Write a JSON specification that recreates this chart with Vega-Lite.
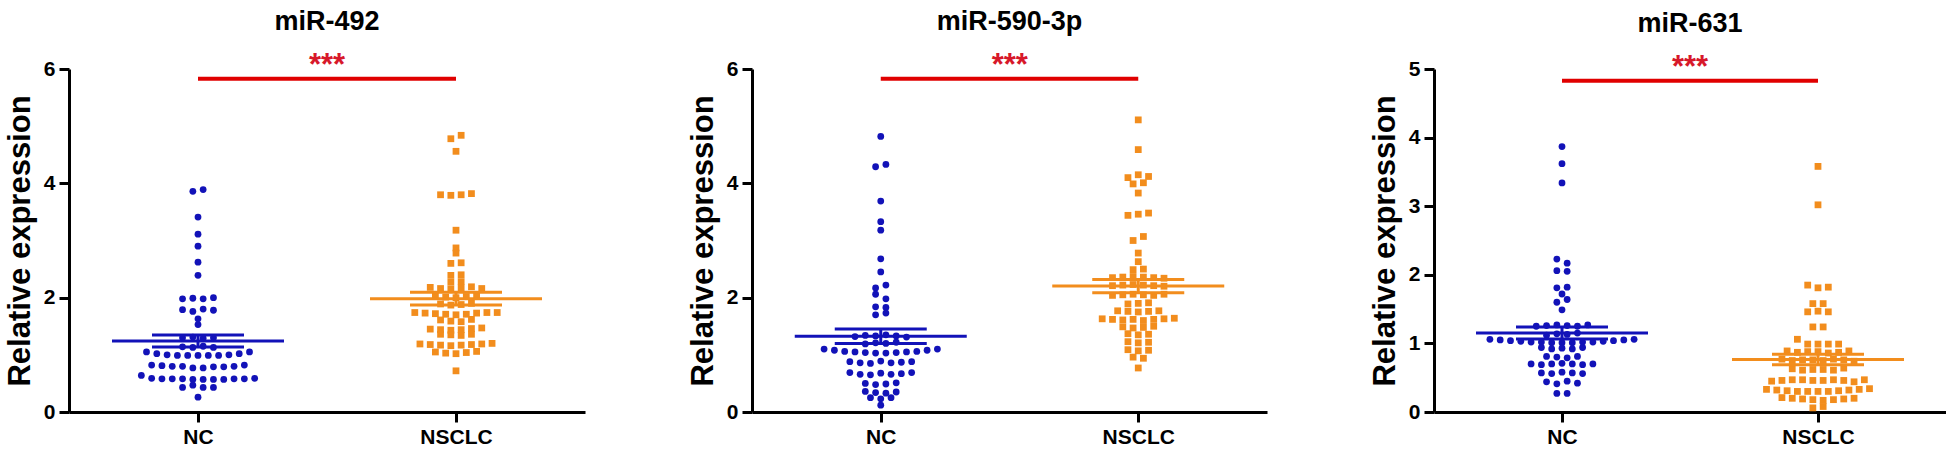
{
"$schema": "https://vega.github.io/schema/vega-lite/v6.json",
"background": "white",
"padding": {"left": 4, "top": 7, "right": 0, "bottom": 0},
"bounds": "flush",
"spacing": 167,
"config": {
 "font": "Liberation Sans",
 "view": {"stroke": null},
 "axis": {"domainColor": "black", "domainWidth": 3, "tickColor": "black", "tickWidth": 3, "tickSize": 10, "labelFont": "Liberation Sans", "labelFontWeight": "bold", "labelFontSize": 21, "labelColor": "black", "grid": false, "titleFont": "Liberation Sans", "titleFontWeight": "bold", "titleFontSize": 31, "titleColor": "black"},
 "axisY": {"labelPadding": 4, "titlePadding": 7, "format": "d"},
 "axisX": {"labelPadding": 4, "labelAngle": 0},
 "title": {"font": "Liberation Sans", "fontSize": 27, "fontWeight": "bold", "color": "black", "offset": 14, "anchor": "middle", "frame": "group"}
},
"hconcat": [
{
 "width": 516, "height": 343,
 "title": "miR-492",
 "data": {"values": [
  {"group":"NC","value":3.86},{"group":"NC","value":3.89},{"group":"NC","value":3.41},{"group":"NC","value":3.11},{"group":"NC","value":2.90},{"group":"NC","value":2.62},{"group":"NC","value":2.39},
  {"group":"NC","value":1.98},{"group":"NC","value":1.99},{"group":"NC","value":1.98},{"group":"NC","value":2.00},
  {"group":"NC","value":1.79},{"group":"NC","value":1.76},{"group":"NC","value":1.80},{"group":"NC","value":1.78},
  {"group":"NC","value":1.63},{"group":"NC","value":1.53},
  {"group":"NC","value":1.30},{"group":"NC","value":1.31},{"group":"NC","value":1.29},{"group":"NC","value":1.30},
  {"group":"NC","value":1.14},{"group":"NC","value":1.13},{"group":"NC","value":1.15},{"group":"NC","value":1.13},
  {"group":"NC","value":1.05},{"group":"NC","value":1.02},{"group":"NC","value":1.00},{"group":"NC","value":0.99},{"group":"NC","value":0.99},{"group":"NC","value":0.99},{"group":"NC","value":0.99},{"group":"NC","value":0.99},{"group":"NC","value":1.00},{"group":"NC","value":1.02},{"group":"NC","value":1.05},
  {"group":"NC","value":0.82},{"group":"NC","value":0.81},{"group":"NC","value":0.80},{"group":"NC","value":0.80},{"group":"NC","value":0.77},{"group":"NC","value":0.77},{"group":"NC","value":0.79},{"group":"NC","value":0.79},{"group":"NC","value":0.80},{"group":"NC","value":0.82},
  {"group":"NC","value":0.64},{"group":"NC","value":0.59},{"group":"NC","value":0.58},{"group":"NC","value":0.58},{"group":"NC","value":0.58},{"group":"NC","value":0.57},{"group":"NC","value":0.57},{"group":"NC","value":0.57},{"group":"NC","value":0.57},{"group":"NC","value":0.58},{"group":"NC","value":0.58},{"group":"NC","value":0.59},
  {"group":"NC","value":0.43},{"group":"NC","value":0.47},{"group":"NC","value":0.43},{"group":"NC","value":0.43},{"group":"NC","value":0.26},
  {"group":"NSCLC","value":4.78},{"group":"NSCLC","value":4.84},{"group":"NSCLC","value":4.56},
  {"group":"NSCLC","value":3.80},{"group":"NSCLC","value":3.79},{"group":"NSCLC","value":3.80},{"group":"NSCLC","value":3.82},
  {"group":"NSCLC","value":3.18},{"group":"NSCLC","value":2.87},{"group":"NSCLC","value":2.78},
  {"group":"NSCLC","value":2.60},{"group":"NSCLC","value":2.61},{"group":"NSCLC","value":2.39},{"group":"NSCLC","value":2.40},{"group":"NSCLC","value":2.27},{"group":"NSCLC","value":2.28},
  {"group":"NSCLC","value":2.18},{"group":"NSCLC","value":2.16},{"group":"NSCLC","value":2.15},{"group":"NSCLC","value":2.17},{"group":"NSCLC","value":2.19},{"group":"NSCLC","value":2.16},
  {"group":"NSCLC","value":2.03},{"group":"NSCLC","value":2.01},{"group":"NSCLC","value":2.00},{"group":"NSCLC","value":2.02},{"group":"NSCLC","value":2.04},
  {"group":"NSCLC","value":1.89},{"group":"NSCLC","value":1.87},{"group":"NSCLC","value":1.88},{"group":"NSCLC","value":1.90},
  {"group":"NSCLC","value":1.74},{"group":"NSCLC","value":1.73},{"group":"NSCLC","value":1.72},{"group":"NSCLC","value":1.71},{"group":"NSCLC","value":1.70},{"group":"NSCLC","value":1.71},{"group":"NSCLC","value":1.73},{"group":"NSCLC","value":1.74},{"group":"NSCLC","value":1.74},
  {"group":"NSCLC","value":1.61},{"group":"NSCLC","value":1.59},{"group":"NSCLC","value":1.58},{"group":"NSCLC","value":1.62},
  {"group":"NSCLC","value":1.45},{"group":"NSCLC","value":1.44},{"group":"NSCLC","value":1.43},{"group":"NSCLC","value":1.44},{"group":"NSCLC","value":1.46},{"group":"NSCLC","value":1.47},
  {"group":"NSCLC","value":1.36},{"group":"NSCLC","value":1.35},{"group":"NSCLC","value":1.34},{"group":"NSCLC","value":1.36},
  {"group":"NSCLC","value":1.19},{"group":"NSCLC","value":1.18},{"group":"NSCLC","value":1.17},{"group":"NSCLC","value":1.16},{"group":"NSCLC","value":1.17},{"group":"NSCLC","value":1.18},{"group":"NSCLC","value":1.19},{"group":"NSCLC","value":1.20},
  {"group":"NSCLC","value":1.05},{"group":"NSCLC","value":1.03},{"group":"NSCLC","value":1.02},{"group":"NSCLC","value":1.04},{"group":"NSCLC","value":1.06},
  {"group":"NSCLC","value":0.72}
 ]},
 "encoding": {"x": {"field": "group", "type": "nominal", "title": null, "scale": {"type": "point", "domain": ["NC","NSCLC"], "padding": 0.5}}},
 "layer": [
  {"transform": [
    {"bin": {"step": 0.14, "anchor": 0}, "field": "value", "as": "row"},
    {"window": [{"op": "row_number", "as": "rn"}, {"op": "count", "as": "cnt"}], "groupby": ["group", "row"], "frame": [null, null]},
    {"calculate": "datum.rn - (datum.cnt + 1) / 2", "as": "slot"}],
   "mark": {"type": "point", "filled": true, "opacity": 1, "size": 46, "strokeWidth": 0},
   "encoding": {
    "xOffset": {"field": "slot", "type": "quantitative", "scale": {"domain": [-10, 10], "range": [-103, 103]}},
    "y": {"field": "value", "type": "quantitative", "title": "Relative expression", "scale": {"domain": [0, 6], "nice": false}, "axis": {"values": [0, 2, 4, 6]}},
    "color": {"field": "group", "type": "nominal", "scale": {"domain": ["NC","NSCLC"], "range": ["#1212b8","#f28d1d"]}, "legend": null},
    "shape": {"field": "group", "type": "nominal", "scale": {"domain": ["NC","NSCLC"], "range": ["circle","square"]}, "legend": null}
   }},
  {"transform": [
    {"aggregate": [{"op": "mean", "field": "value", "as": "m"}, {"op": "stderr", "field": "value", "as": "se"}], "groupby": ["group"]},
    {"calculate": "datum.m + datum.se", "as": "hi"},
    {"calculate": "datum.m - datum.se", "as": "lo"}],
   "encoding": {"color": {"field": "group", "type": "nominal", "legend": null}},
   "layer": [
    {"mark": {"type": "tick", "size": 172, "thickness": 3, "opacity": 1}, "encoding": {"y": {"field": "m", "type": "quantitative", "title": "Relative expression"}}},
    {"mark": {"type": "tick", "size": 92, "thickness": 3, "opacity": 1}, "encoding": {"y": {"field": "hi", "type": "quantitative", "title": "Relative expression"}}},
    {"mark": {"type": "tick", "size": 92, "thickness": 3, "opacity": 1}, "encoding": {"y": {"field": "lo", "type": "quantitative", "title": "Relative expression"}}},
    {"mark": {"type": "rule", "strokeWidth": 3}, "encoding": {"y": {"field": "lo", "type": "quantitative", "title": "Relative expression"}, "y2": {"field": "hi"}}}
   ]},
  {"data": {"values": [{"from": "NC", "to": "NSCLC", "p": "***"}]},
   "layer": [
    {"mark": {"type": "rule", "color": "#e00000", "strokeWidth": 4},
     "encoding": {"x": {"field": "from", "type": "nominal", "title": null}, "x2": {"field": "to"}, "y": {"datum": 5.83, "type": "quantitative", "title": "Relative expression"}}},
    {"mark": {"type": "text", "dx": 129, "dy": -4, "baseline": "alphabetic", "align": "center", "fontSize": 31, "fontWeight": "bold", "font": "Liberation Sans", "color": "#d7182a"},
     "encoding": {"text": {"field": "p"}, "x": {"field": "from", "type": "nominal", "title": null}, "y": {"datum": 5.83, "type": "quantitative", "title": "Relative expression"}}}
   ]}
 ]
},
{
 "width": 515, "height": 343,
 "title": "miR-590-3p",
 "data": {"values": [
  {"group":"NC","value":4.82},{"group":"NC","value":4.29},{"group":"NC","value":4.33},{"group":"NC","value":3.69},{"group":"NC","value":3.18},{"group":"NC","value":3.33},{"group":"NC","value":2.68},{"group":"NC","value":2.45},
  {"group":"NC","value":2.17},{"group":"NC","value":2.22},{"group":"NC","value":2.06},{"group":"NC","value":1.98},{"group":"NC","value":1.84},{"group":"NC","value":1.83},{"group":"NC","value":1.70},{"group":"NC","value":1.73},
  {"group":"NC","value":1.32},{"group":"NC","value":1.34},{"group":"NC","value":1.33},{"group":"NC","value":1.35},{"group":"NC","value":1.33},{"group":"NC","value":1.31},
  {"group":"NC","value":1.19},{"group":"NC","value":1.21},{"group":"NC","value":1.20},{"group":"NC","value":1.22},
  {"group":"NC","value":1.10},{"group":"NC","value":1.08},{"group":"NC","value":1.06},{"group":"NC","value":1.05},{"group":"NC","value":1.04},{"group":"NC","value":1.03},{"group":"NC","value":1.03},{"group":"NC","value":1.04},{"group":"NC","value":1.05},{"group":"NC","value":1.06},{"group":"NC","value":1.08},{"group":"NC","value":1.10},
  {"group":"NC","value":0.88},{"group":"NC","value":0.86},{"group":"NC","value":0.85},{"group":"NC","value":0.89},{"group":"NC","value":0.86},{"group":"NC","value":0.87},{"group":"NC","value":0.88},
  {"group":"NC","value":0.69},{"group":"NC","value":0.66},{"group":"NC","value":0.65},{"group":"NC","value":0.68},{"group":"NC","value":0.66},{"group":"NC","value":0.67},{"group":"NC","value":0.69},
  {"group":"NC","value":0.50},{"group":"NC","value":0.48},{"group":"NC","value":0.49},{"group":"NC","value":0.51},
  {"group":"NC","value":0.36},{"group":"NC","value":0.34},{"group":"NC","value":0.33},{"group":"NC","value":0.35},
  {"group":"NC","value":0.25},{"group":"NC","value":0.23},{"group":"NC","value":0.25},{"group":"NC","value":0.12},
  {"group":"NSCLC","value":5.11},{"group":"NSCLC","value":4.59},{"group":"NSCLC","value":4.10},{"group":"NSCLC","value":4.15},{"group":"NSCLC","value":4.12},{"group":"NSCLC","value":3.99},{"group":"NSCLC","value":4.01},{"group":"NSCLC","value":3.83},
  {"group":"NSCLC","value":3.44},{"group":"NSCLC","value":3.46},{"group":"NSCLC","value":3.48},{"group":"NSCLC","value":3.00},{"group":"NSCLC","value":3.07},{"group":"NSCLC","value":2.78},{"group":"NSCLC","value":2.63},{"group":"NSCLC","value":2.49},{"group":"NSCLC","value":2.50},
  {"group":"NSCLC","value":2.35},{"group":"NSCLC","value":2.36},{"group":"NSCLC","value":2.37},{"group":"NSCLC","value":2.36},{"group":"NSCLC","value":2.35},{"group":"NSCLC","value":2.34},
  {"group":"NSCLC","value":2.21},{"group":"NSCLC","value":2.22},{"group":"NSCLC","value":2.23},{"group":"NSCLC","value":2.22},{"group":"NSCLC","value":2.21},{"group":"NSCLC","value":2.20},
  {"group":"NSCLC","value":2.04},{"group":"NSCLC","value":2.05},{"group":"NSCLC","value":2.06},{"group":"NSCLC","value":2.05},{"group":"NSCLC","value":2.04},{"group":"NSCLC","value":2.06},
  {"group":"NSCLC","value":1.89},{"group":"NSCLC","value":1.90},{"group":"NSCLC","value":1.91},
  {"group":"NSCLC","value":1.77},{"group":"NSCLC","value":1.76},{"group":"NSCLC","value":1.75},{"group":"NSCLC","value":1.76},{"group":"NSCLC","value":1.77},
  {"group":"NSCLC","value":1.63},{"group":"NSCLC","value":1.62},{"group":"NSCLC","value":1.61},{"group":"NSCLC","value":1.62},{"group":"NSCLC","value":1.60},{"group":"NSCLC","value":1.62},{"group":"NSCLC","value":1.63},{"group":"NSCLC","value":1.64},
  {"group":"NSCLC","value":1.49},{"group":"NSCLC","value":1.47},{"group":"NSCLC","value":1.48},{"group":"NSCLC","value":1.50},
  {"group":"NSCLC","value":1.37},{"group":"NSCLC","value":1.35},{"group":"NSCLC","value":1.36},
  {"group":"NSCLC","value":1.23},{"group":"NSCLC","value":1.21},{"group":"NSCLC","value":1.22},
  {"group":"NSCLC","value":1.09},{"group":"NSCLC","value":1.07},{"group":"NSCLC","value":1.08},
  {"group":"NSCLC","value":0.96},{"group":"NSCLC","value":0.94},{"group":"NSCLC","value":0.77}
 ]},
 "encoding": {"x": {"field": "group", "type": "nominal", "title": null, "scale": {"type": "point", "domain": ["NC","NSCLC"], "padding": 0.5}}},
 "layer": [
  {"transform": [
    {"bin": {"step": 0.14, "anchor": 0}, "field": "value", "as": "row"},
    {"window": [{"op": "row_number", "as": "rn"}, {"op": "count", "as": "cnt"}], "groupby": ["group", "row"], "frame": [null, null]},
    {"calculate": "datum.rn - (datum.cnt + 1) / 2", "as": "slot"}],
   "mark": {"type": "point", "filled": true, "opacity": 1, "size": 46, "strokeWidth": 0},
   "encoding": {
    "xOffset": {"field": "slot", "type": "quantitative", "scale": {"domain": [-10, 10], "range": [-103, 103]}},
    "y": {"field": "value", "type": "quantitative", "title": "Relative expression", "scale": {"domain": [0, 6], "nice": false}, "axis": {"values": [0, 2, 4, 6]}},
    "color": {"field": "group", "type": "nominal", "scale": {"domain": ["NC","NSCLC"], "range": ["#1212b8","#f28d1d"]}, "legend": null},
    "shape": {"field": "group", "type": "nominal", "scale": {"domain": ["NC","NSCLC"], "range": ["circle","square"]}, "legend": null}
   }},
  {"transform": [
    {"aggregate": [{"op": "mean", "field": "value", "as": "m"}, {"op": "stderr", "field": "value", "as": "se"}], "groupby": ["group"]},
    {"calculate": "datum.m + datum.se", "as": "hi"},
    {"calculate": "datum.m - datum.se", "as": "lo"}],
   "encoding": {"color": {"field": "group", "type": "nominal", "legend": null}},
   "layer": [
    {"mark": {"type": "tick", "size": 172, "thickness": 3, "opacity": 1}, "encoding": {"y": {"field": "m", "type": "quantitative", "title": "Relative expression"}}},
    {"mark": {"type": "tick", "size": 92, "thickness": 3, "opacity": 1}, "encoding": {"y": {"field": "hi", "type": "quantitative", "title": "Relative expression"}}},
    {"mark": {"type": "tick", "size": 92, "thickness": 3, "opacity": 1}, "encoding": {"y": {"field": "lo", "type": "quantitative", "title": "Relative expression"}}},
    {"mark": {"type": "rule", "strokeWidth": 3}, "encoding": {"y": {"field": "lo", "type": "quantitative", "title": "Relative expression"}, "y2": {"field": "hi"}}}
   ]},
  {"data": {"values": [{"from": "NC", "to": "NSCLC", "p": "***"}]},
   "layer": [
    {"mark": {"type": "rule", "color": "#e00000", "strokeWidth": 4},
     "encoding": {"x": {"field": "from", "type": "nominal", "title": null}, "x2": {"field": "to"}, "y": {"datum": 5.83, "type": "quantitative", "title": "Relative expression"}}},
    {"mark": {"type": "text", "dx": 129, "dy": -4, "baseline": "alphabetic", "align": "center", "fontSize": 31, "fontWeight": "bold", "font": "Liberation Sans", "color": "#d7182a"},
     "encoding": {"text": {"field": "p"}, "x": {"field": "from", "type": "nominal", "title": null}, "y": {"datum": 5.83, "type": "quantitative", "title": "Relative expression"}}}
   ]}
 ]
},
{
 "width": 512, "height": 343,
 "title": "miR-631",
 "data": {"values": [
  {"group":"NC","value":3.87},{"group":"NC","value":3.62},{"group":"NC","value":3.34},{"group":"NC","value":2.23},{"group":"NC","value":2.17},{"group":"NC","value":2.06},{"group":"NC","value":2.05},
  {"group":"NC","value":1.81},{"group":"NC","value":1.82},{"group":"NC","value":1.72},{"group":"NC","value":1.60},{"group":"NC","value":1.64},{"group":"NC","value":1.49},
  {"group":"NC","value":1.25},{"group":"NC","value":1.26},{"group":"NC","value":1.27},{"group":"NC","value":1.26},{"group":"NC","value":1.25},{"group":"NC","value":1.27},
  {"group":"NC","value":1.12},{"group":"NC","value":1.14},{"group":"NC","value":1.13},{"group":"NC","value":1.15},
  {"group":"NC","value":1.06},{"group":"NC","value":1.05},{"group":"NC","value":1.04},{"group":"NC","value":1.03},{"group":"NC","value":1.02},{"group":"NC","value":1.02},{"group":"NC","value":1.01},{"group":"NC","value":1.01},{"group":"NC","value":1.01},{"group":"NC","value":1.02},{"group":"NC","value":1.02},{"group":"NC","value":1.03},{"group":"NC","value":1.04},{"group":"NC","value":1.05},{"group":"NC","value":1.06},
  {"group":"NC","value":0.94},{"group":"NC","value":0.92},{"group":"NC","value":0.93},{"group":"NC","value":0.92},{"group":"NC","value":0.94},
  {"group":"NC","value":0.81},{"group":"NC","value":0.80},{"group":"NC","value":0.79},{"group":"NC","value":0.81},
  {"group":"NC","value":0.70},{"group":"NC","value":0.69},{"group":"NC","value":0.70},{"group":"NC","value":0.71},{"group":"NC","value":0.70},{"group":"NC","value":0.69},{"group":"NC","value":0.70},
  {"group":"NC","value":0.57},{"group":"NC","value":0.56},{"group":"NC","value":0.58},{"group":"NC","value":0.57},{"group":"NC","value":0.56},
  {"group":"NC","value":0.44},{"group":"NC","value":0.41},{"group":"NC","value":0.45},{"group":"NC","value":0.42},{"group":"NC","value":0.27},{"group":"NC","value":0.27},
  {"group":"NSCLC","value":3.58},{"group":"NSCLC","value":3.02},{"group":"NSCLC","value":1.85},{"group":"NSCLC","value":1.81},{"group":"NSCLC","value":1.82},
  {"group":"NSCLC","value":1.58},{"group":"NSCLC","value":1.58},{"group":"NSCLC","value":1.46},{"group":"NSCLC","value":1.47},{"group":"NSCLC","value":1.46},{"group":"NSCLC","value":1.24},{"group":"NSCLC","value":1.24},
  {"group":"NSCLC","value":1.06},{"group":"NSCLC","value":0.99},{"group":"NSCLC","value":0.99},{"group":"NSCLC","value":0.99},{"group":"NSCLC","value":0.99},
  {"group":"NSCLC","value":0.89},{"group":"NSCLC","value":0.87},{"group":"NSCLC","value":0.88},{"group":"NSCLC","value":0.88},{"group":"NSCLC","value":0.86},{"group":"NSCLC","value":0.87},{"group":"NSCLC","value":0.89},
  {"group":"NSCLC","value":0.77},{"group":"NSCLC","value":0.75},{"group":"NSCLC","value":0.76},{"group":"NSCLC","value":0.76},{"group":"NSCLC","value":0.75},{"group":"NSCLC","value":0.77},{"group":"NSCLC","value":0.76},{"group":"NSCLC","value":0.74},
  {"group":"NSCLC","value":0.63},{"group":"NSCLC","value":0.61},{"group":"NSCLC","value":0.62},{"group":"NSCLC","value":0.62},{"group":"NSCLC","value":0.61},{"group":"NSCLC","value":0.64},
  {"group":"NSCLC","value":0.45},{"group":"NSCLC","value":0.46},{"group":"NSCLC","value":0.47},{"group":"NSCLC","value":0.47},{"group":"NSCLC","value":0.46},{"group":"NSCLC","value":0.46},{"group":"NSCLC","value":0.47},{"group":"NSCLC","value":0.46},{"group":"NSCLC","value":0.44},{"group":"NSCLC","value":0.47},
  {"group":"NSCLC","value":0.33},{"group":"NSCLC","value":0.32},{"group":"NSCLC","value":0.31},{"group":"NSCLC","value":0.30},{"group":"NSCLC","value":0.30},{"group":"NSCLC","value":0.30},{"group":"NSCLC","value":0.30},{"group":"NSCLC","value":0.31},{"group":"NSCLC","value":0.32},{"group":"NSCLC","value":0.33},{"group":"NSCLC","value":0.34},
  {"group":"NSCLC","value":0.21},{"group":"NSCLC","value":0.20},{"group":"NSCLC","value":0.19},{"group":"NSCLC","value":0.18},{"group":"NSCLC","value":0.17},{"group":"NSCLC","value":0.18},{"group":"NSCLC","value":0.19},{"group":"NSCLC","value":0.20},
  {"group":"NSCLC","value":0.06},{"group":"NSCLC","value":0.08}
 ]},
 "encoding": {"x": {"field": "group", "type": "nominal", "title": null, "scale": {"type": "point", "domain": ["NC","NSCLC"], "padding": 0.5}}},
 "layer": [
  {"transform": [
    {"bin": {"step": 0.12, "anchor": 0}, "field": "value", "as": "row"},
    {"window": [{"op": "row_number", "as": "rn"}, {"op": "count", "as": "cnt"}], "groupby": ["group", "row"], "frame": [null, null]},
    {"calculate": "datum.rn - (datum.cnt + 1) / 2", "as": "slot"}],
   "mark": {"type": "point", "filled": true, "opacity": 1, "size": 46, "strokeWidth": 0},
   "encoding": {
    "xOffset": {"field": "slot", "type": "quantitative", "scale": {"domain": [-10, 10], "range": [-103, 103]}},
    "y": {"field": "value", "type": "quantitative", "title": "Relative expression", "scale": {"domain": [0, 5], "nice": false}, "axis": {"values": [0, 1, 2, 3, 4, 5]}},
    "color": {"field": "group", "type": "nominal", "scale": {"domain": ["NC","NSCLC"], "range": ["#1212b8","#f28d1d"]}, "legend": null},
    "shape": {"field": "group", "type": "nominal", "scale": {"domain": ["NC","NSCLC"], "range": ["circle","square"]}, "legend": null}
   }},
  {"transform": [
    {"aggregate": [{"op": "mean", "field": "value", "as": "m"}, {"op": "stderr", "field": "value", "as": "se"}], "groupby": ["group"]},
    {"calculate": "datum.m + datum.se", "as": "hi"},
    {"calculate": "datum.m - datum.se", "as": "lo"}],
   "encoding": {"color": {"field": "group", "type": "nominal", "legend": null}},
   "layer": [
    {"mark": {"type": "tick", "size": 172, "thickness": 3, "opacity": 1}, "encoding": {"y": {"field": "m", "type": "quantitative", "title": "Relative expression"}}},
    {"mark": {"type": "tick", "size": 92, "thickness": 3, "opacity": 1}, "encoding": {"y": {"field": "hi", "type": "quantitative", "title": "Relative expression"}}},
    {"mark": {"type": "tick", "size": 92, "thickness": 3, "opacity": 1}, "encoding": {"y": {"field": "lo", "type": "quantitative", "title": "Relative expression"}}},
    {"mark": {"type": "rule", "strokeWidth": 3}, "encoding": {"y": {"field": "lo", "type": "quantitative", "title": "Relative expression"}, "y2": {"field": "hi"}}}
   ]},
  {"data": {"values": [{"from": "NC", "to": "NSCLC", "p": "***"}]},
   "layer": [
    {"mark": {"type": "rule", "color": "#e00000", "strokeWidth": 4},
     "encoding": {"x": {"field": "from", "type": "nominal", "title": null}, "x2": {"field": "to"}, "y": {"datum": 4.83, "type": "quantitative", "title": "Relative expression"}}},
    {"mark": {"type": "text", "dx": 128, "dy": -4, "baseline": "alphabetic", "align": "center", "fontSize": 31, "fontWeight": "bold", "font": "Liberation Sans", "color": "#d7182a"},
     "encoding": {"text": {"field": "p"}, "x": {"field": "from", "type": "nominal", "title": null}, "y": {"datum": 4.83, "type": "quantitative", "title": "Relative expression"}}}
   ]}
 ]
}
]
}
